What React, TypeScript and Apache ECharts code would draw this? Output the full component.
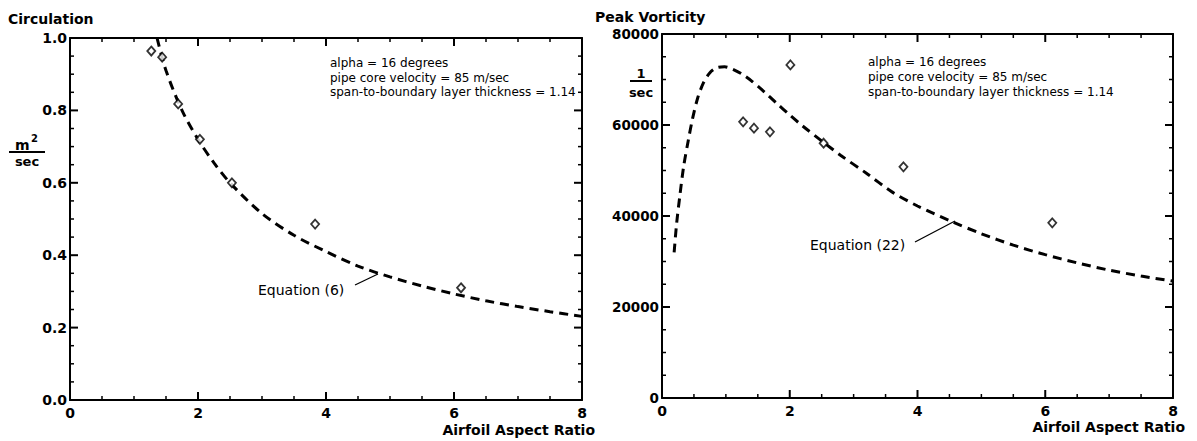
import React, { useEffect, useRef } from "react";
import * as echarts from "echarts";

// Circulation chart (left)
const circPtsX = [1.27, 1.44, 1.69, 2.03, 2.53, 3.83, 6.11];
const circPtsY = [0.964, 0.947, 0.818, 0.72, 0.6, 0.486, 0.31];
const circEqX = [1.36, 1.5, 1.75, 2.0, 2.25, 2.5, 3.0, 3.5, 4.0, 4.5, 5.0, 5.5, 6.0, 6.5, 7.0, 7.5, 8.0];
const circEqY = [1.0, 0.91, 0.8, 0.72, 0.655, 0.6, 0.515, 0.455, 0.41, 0.37, 0.34, 0.315, 0.293, 0.274, 0.258, 0.244, 0.231];

// Peak vorticity chart (right)
const vortPtsX = [1.27, 1.44, 1.69, 2.01, 2.53, 3.78, 6.11];
const vortPtsY = [60700, 59300, 58500, 73200, 56000, 50800, 38500];
const vortEqX = [0.19, 0.23, 0.28, 0.34, 0.41, 0.48, 0.56, 0.65, 0.75, 0.86, 0.98, 1.1, 1.25, 1.4, 1.6, 1.8, 2.0, 2.2, 2.5, 2.8, 3.2, 3.6, 4.0, 4.55, 5.0, 5.5, 6.0, 6.5, 7.0, 7.5, 8.0];
const vortEqY = [32000, 38500, 44500, 51000, 56500, 61500, 66000, 69300, 71500, 72600, 72800, 72300, 71200, 69700, 67300, 64700, 62200, 59800, 56500, 53300, 49400, 45300, 42200, 38700, 36100, 33600, 31500, 29700, 28100, 26800, 25700];

const xRange = { min: 0, max: 8, interval: 2 };
const circRange = { min: 0, max: 1, interval: 0.2 };
const vortRange = { min: 0, max: 80000, interval: 20000 };
const MINOR_SPLIT = 4;

const infoLines = ["alpha = 16 degrees", "pipe core velocity = 85 m/sec", "span-to-boundary layer thickness = 1.14"];

const FONT = "DejaVu Sans";

type Range = { min: number; max: number; interval: number };

function zip(xs: number[], ys: number[]) {
  return xs.map((x, i) => [x, ys[i]]);
}

function ln(x1: number, y1: number, x2: number, y2: number, w = 1.3) {
  return {
    type: "line",
    z: 100,
    shape: { x1, y1, x2, y2 },
    style: { stroke: "#000", lineWidth: w },
  };
}

function tickValues(r: Range) {
  const step = r.interval / MINOR_SPLIT;
  const n = Math.round((r.max - r.min) / step);
  const out: { v: number; major: boolean }[] = [];
  for (let i = 0; i <= n; i++) out.push({ v: r.min + i * step, major: i % MINOR_SPLIT === 0 });
  return out;
}

// inward tick marks on all four sides, placed through the chart's own scales
function buildTicks(chart: any, xr: Range, yr: Range, xi: number, yi: number) {
  const finder = { xAxisIndex: xi, yAxisIndex: yi };
  const els: any[] = [];
  tickValues(xr).forEach(({ v, major }) => {
    const len = major ? 8 : 4;
    const w = major ? 2 : 1.5;
    const b = chart.convertToPixel(finder, [v, yr.min]);
    const t = chart.convertToPixel(finder, [v, yr.max]);
    els.push(ln(b[0], b[1], b[0], b[1] - len, w));
    els.push(ln(t[0], t[1], t[0], t[1] + len, w));
  });
  tickValues(yr).forEach(({ v, major }) => {
    const len = major ? 8 : 4;
    const w = major ? 2 : 1.5;
    const l = chart.convertToPixel(finder, [xr.min, v]);
    const r = chart.convertToPixel(finder, [xr.max, v]);
    els.push(ln(l[0], l[1], l[0] + len, l[1], w));
    els.push(ln(r[0], r[1], r[0] - len, r[1], w));
  });
  return els;
}

function axisCommon(showLabel: boolean, fmt?: (v: number) => string, labelSize = 14, margin = 3) {
  const ax: any = {
    type: "value",
    splitLine: { show: false },
    axisLine: { show: true, lineStyle: { color: "#000", width: 2 } },
    axisTick: { show: false },
    minorTick: { show: false },
    axisLabel: {
      show: showLabel,
      color: "#000",
      fontFamily: FONT,
      fontWeight: "bold",
      fontSize: labelSize,
      margin,
    },
  };
  if (fmt) ax.axisLabel.formatter = fmt;
  if (!showLabel) ax.axisLine.onZero = false;
  return ax;
}

export default function App() {
  const ref = useRef<HTMLDivElement>(null);
  useEffect(() => {
    if (!ref.current) return;
    const chart = echarts.init(ref.current, null, { renderer: "svg" });
    const txt = (text: string, x: number, y: number, o: any = {}) => ({
      type: "text",
      x,
      y,
      z: 100,
      style: {
        text,
        fill: "#000",
        fontFamily: FONT,
        fontWeight: o.bold ? "bold" : "normal",
        fontSize: o.size || 13,
        align: o.align || "left",
        verticalAlign: "middle",
      },
    });

    const texts = [
      txt("Circulation", 8, 19, { bold: true, size: 14 }),
      txt("Peak Vorticity", 595, 17, { bold: true, size: 14 }),
      txt("m", 15, 145, { bold: true, size: 14 }),
      txt("2", 31, 138, { bold: true, size: 10 }),
      ln(9, 152, 45, 152, 2),
      txt("sec", 27, 161, { bold: true, size: 13, align: "center" }),
      txt("1", 641, 73, { bold: true, size: 13, align: "center" }),
      ln(630, 81, 652, 81, 2),
      txt("sec", 641, 92, { bold: true, size: 13, align: "center" }),
      ...infoLines.map((s, i) => txt(s, 330, 63 + i * 14.5, { size: 12 })),
      ...infoLines.map((s, i) => txt(s, 868, 62 + i * 15, { size: 12 })),
      txt("Equation (6)", 258, 290, { size: 14 }),
      ln(355, 285, 378, 274),
      txt("Equation (22)", 810, 245, { size: 14 }),
      ln(915, 242, 955, 221),
      txt("Airfoil Aspect Ratio", 595, 430, { bold: true, size: 14, align: "right" }),
      txt("Airfoil Aspect Ratio", 1185, 427, { bold: true, size: 14, align: "right" }),
    ];

    chart.setOption({
      animation: false,
      grid: [
        { left: 70, top: 38, width: 512, height: 362 },
        { left: 662, top: 34, width: 511, height: 364 },
      ],
      xAxis: [
        { ...axisCommon(true, undefined, 14, 6), ...xRange, gridIndex: 0, position: "bottom" },
        { ...axisCommon(false), ...xRange, gridIndex: 0, position: "top" },
        { ...axisCommon(true, undefined, 14, 6), ...xRange, gridIndex: 1, position: "bottom" },
        { ...axisCommon(false), ...xRange, gridIndex: 1, position: "top" },
      ],
      yAxis: [
        { ...axisCommon(true, (v: number) => v.toFixed(1), 14, 3), ...circRange, gridIndex: 0, position: "left" },
        { ...axisCommon(false), ...circRange, gridIndex: 0, position: "right" },
        { ...axisCommon(true, (v: number) => String(v), 13.5, 3), ...vortRange, gridIndex: 1, position: "left" },
        { ...axisCommon(false), ...vortRange, gridIndex: 1, position: "right" },
      ],
      series: [
        {
          type: "line",
          xAxisIndex: 0,
          yAxisIndex: 0,
          data: zip(circEqX, circEqY),
          smooth: 0.3,
          showSymbol: false,
          lineStyle: { color: "#000", width: 3, type: [9, 6] },
          z: 2,
        },
        {
          type: "scatter",
          xAxisIndex: 0,
          yAxisIndex: 0,
          data: zip(circPtsX, circPtsY),
          symbol: "diamond",
          symbolSize: [8, 9],
          itemStyle: { color: "#fff", borderColor: "#000", borderWidth: 1.8 },
          z: 3,
        },
        {
          type: "line",
          xAxisIndex: 2,
          yAxisIndex: 2,
          data: zip(vortEqX, vortEqY),
          smooth: 0.3,
          showSymbol: false,
          lineStyle: { color: "#000", width: 3, type: [9, 6] },
          z: 2,
        },
        {
          type: "scatter",
          xAxisIndex: 2,
          yAxisIndex: 2,
          data: zip(vortPtsX, vortPtsY),
          symbol: "diamond",
          symbolSize: [8, 9],
          itemStyle: { color: "#fff", borderColor: "#000", borderWidth: 1.8 },
          z: 3,
        },
      ],
      graphic: texts,
    });

    let ticks: any[] = [];
    try {
      ticks = [
        ...buildTicks(chart, xRange, circRange, 0, 0),
        ...buildTicks(chart, xRange, vortRange, 2, 2),
      ].filter((e) => [e.shape.x1, e.shape.y1, e.shape.x2, e.shape.y2].every((n) => Number.isFinite(n)));
    } catch (e) {
      ticks = [];
    }
    if (ticks.length) {
      chart.setOption({ graphic: [...texts, ...ticks] });
    }
    return () => chart.dispose();
  }, []);
  return (
    <div
      ref={ref}
      style={{ position: "absolute", left: 0, top: 0, width: 1197, height: 441, background: "#fff" }}
    />
  );
}
